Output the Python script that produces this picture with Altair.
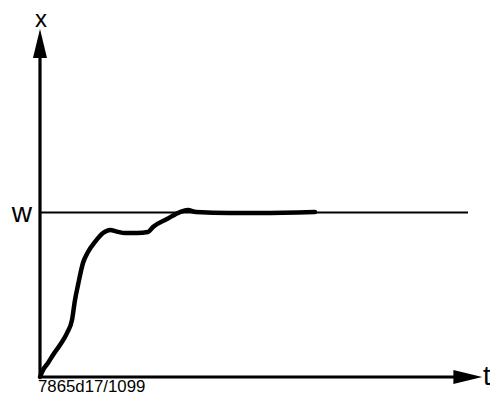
import altair as alt
import pandas as pd

# Response curve (t in time units, x relative to setpoint w = 1)
curve_t = [0.0, 0.068, 0.180, 0.293, 0.450, 0.608, 0.721, 0.788, 0.856, 0.968,
           1.081, 1.239, 1.419, 1.577, 1.734, 1.914, 2.185, 2.432, 2.545, 2.860,
           3.153, 3.333, 3.514, 4.279, 4.955, 6.194]
curve_x = [0.0, 0.043, 0.085, 0.134, 0.195, 0.267, 0.347, 0.468, 0.559, 0.693,
           0.760, 0.821, 0.875, 0.894, 0.884, 0.875, 0.875, 0.881, 0.912, 0.960,
           1.003, 1.015, 1.003, 0.997, 0.997, 1.003]

setpoint_w = 1.0
w_line_end = 9.64      # where the setpoint line stops
t_axis_end = 9.96      # tip of t-axis arrow
x_axis_end = 2.116     # tip of x-axis arrow

labels = ["x", "w", "t", "7865d17/1099"]

X_DOMAIN = [-0.7207, 10.135]
Y_DOMAIN = [-0.1155, 2.2432]

xs = alt.Scale(domain=X_DOMAIN, nice=False, zero=False)
ys = alt.Scale(domain=Y_DOMAIN, nice=False, zero=False)

curve_df = pd.DataFrame({"t": curve_t, "x": curve_x, "i": range(len(curve_t))})

# axis arrow geometry in data units
arrow_len_t = 0.65
arrow_half_t = 0.158
arrow_len_x = 0.177
arrow_half_x = 0.0426

rules_df = pd.DataFrame({
    "t": [0.0, 0.0, 0.0],
    "t2": [0.0, t_axis_end - arrow_len_t + 0.02, w_line_end],
    "x": [-0.005, 0.0, setpoint_w],
    "x2": [x_axis_end - arrow_len_x + 0.02, 0.0, setpoint_w],
    "sw": [3.2, 3.2, 2.0],
})

yarrow_df = pd.DataFrame({
    "t": [-arrow_half_t, 0.0, arrow_half_t],
    "x": [x_axis_end - arrow_len_x, x_axis_end, x_axis_end - arrow_len_x],
    "x2": [x_axis_end - arrow_len_x] * 3,
})
xarrow_df = pd.DataFrame({
    "x": [-arrow_half_x, 0.0, arrow_half_x],
    "t": [t_axis_end - arrow_len_t, t_axis_end, t_axis_end - arrow_len_t],
    "t2": [t_axis_end - arrow_len_t] * 3,
})

X = lambda f: alt.X(f, type="quantitative", scale=xs, axis=None)
Y = lambda f: alt.Y(f, type="quantitative", scale=ys, axis=None)

rules = alt.Chart(rules_df).mark_rule(color="black", strokeCap="butt").encode(
    x=X("t"), x2="t2", y=Y("x"), y2="x2",
    strokeWidth=alt.StrokeWidth("sw:Q", scale=None),
)

yarrow = alt.Chart(yarrow_df).mark_area(color="black", opacity=1).encode(
    x=X("t"), y=alt.Y("x:Q", scale=ys, axis=None, stack=None), y2="x2",
)
xarrow = alt.Chart(xarrow_df).mark_area(color="black", opacity=1, orient="horizontal").encode(
    y=Y("x"), x=alt.X("t:Q", scale=xs, axis=None, stack=None), x2="t2",
)

curve = alt.Chart(curve_df).mark_line(
    color="black", strokeWidth=4.5, strokeCap="round", strokeJoin="round",
    interpolate="monotone",
).encode(x=X("t"), y=Y("x"), order="i:Q")


def label(text, t, x, size, align):
    df = pd.DataFrame({"t": [t], "x": [x], "s": [text]})
    return alt.Chart(df).mark_text(
        font="Liberation Sans", fontSize=size, align=align, baseline="alphabetic",
        color="black",
    ).encode(x=X("t"), y=Y("x"), text="s:N")


texts = (
    label(labels[0], 0.02, 2.130, 24, "center")
    + label(labels[1], -0.18, 0.942, 28, "right")
    + label(labels[2], 9.975, -0.0486, 27, "left")
    + label(labels[3], -0.045, -0.0912, 16.8, "left")
)

chart = alt.layer(rules, yarrow, xarrow, curve, texts).properties(
    width=482, height=388, padding=0, autosize=alt.AutoSizeParams(type="none"),
    background="white",
).configure_view(stroke=None)

chart.save("out.html", embed_options={"renderer": "svg", "actions": False})
